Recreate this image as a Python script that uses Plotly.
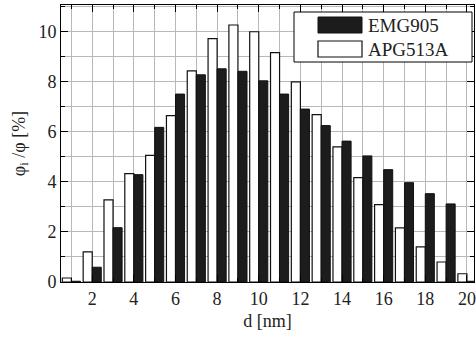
import plotly.graph_objects as go

d = list(range(1, 21))
emg905 = [0.03, 0.59, 2.17, 4.29, 6.18, 7.51, 8.28, 8.52, 8.42, 8.04,
          7.51, 6.91, 6.25, 5.63, 5.04, 4.49, 3.97, 3.53, 3.12, 0.03]
apg513a = [0.16, 1.20, 3.28, 4.33, 5.06, 6.65, 8.44, 9.73, 10.27, 10.00,
           9.17, 8.00, 6.69, 5.40, 4.17, 3.09, 2.16, 1.40, 0.80, 0.33]
x_ticks = [2, 4, 6, 8, 10, 12, 14, 16, 18, 20]
y_ticks = [0, 2, 4, 6, 8, 10]
series_names = ["EMG905", "APG513A"]

W, H = 476, 339
L, R, T, B = 61, 474, 5, 282
FONT = "Liberation Serif"

def px(xp):
    return (xp - L) / (R - L)

def py(yp):
    return (B - yp) / (B - T)

fig = go.Figure()
fig.add_trace(go.Bar(x=d, y=apg513a, name=series_names[1], marker=dict(color="white", line=dict(color="#111", width=1.2)), showlegend=False))
fig.add_trace(go.Bar(x=d, y=emg905, name=series_names[0], marker=dict(color="#1c1c1c", line=dict(color="#111", width=1)), showlegend=False))

grid = "#b8b8b8"
axis_common = dict(
    showline=True, linecolor="black", linewidth=1, mirror="ticks",
    ticks="inside", ticklen=7, tickcolor="black", tickwidth=1,
    showgrid=True, gridcolor=grid, gridwidth=1, zeroline=False,
    tickfont=dict(family=FONT, size=18, color="#222"),
)
fig.update_xaxes(**axis_common, range=[0.5, 20.34], tickvals=x_ticks,
                 minor=dict(dtick=1, tick0=0, ticks="inside", ticklen=4, tickcolor="black", showgrid=True, gridcolor=grid),
                 title=dict(text="d [nm]", font=dict(family=FONT, size=18, color="#222"), standoff=6))
fig.update_yaxes(**axis_common, range=[0, 11.07], tickvals=y_ticks,
                 minor=dict(dtick=1, tick0=0, ticks="inside", ticklen=4, tickcolor="black", showgrid=True, gridcolor=grid),
                 title=dict(text="φ<sub>i</sub> /φ [%]", font=dict(family=FONT, size=18, color="#222"), standoff=8))

# legend drawn with shapes
shapes = [
    dict(type="rect", xref="paper", yref="paper", x0=px(294), x1=px(472), y0=py(62), y1=py(12),
         fillcolor="white", line=dict(color="black", width=1)),
    dict(type="rect", xref="paper", yref="paper", x0=px(318), x1=px(362), y0=py(33), y1=py(17),
         fillcolor="#1c1c1c", line=dict(color="#111", width=1)),
    dict(type="rect", xref="paper", yref="paper", x0=px(318), x1=px(362), y0=py(57), y1=py(41),
         fillcolor="white", line=dict(color="#111", width=1.2)),
]
annotations = [
    dict(xref="paper", yref="paper", x=px(366), y=py(25), text=series_names[0], showarrow=False,
         xanchor="left", yanchor="middle", font=dict(family=FONT, size=19, color="#222")),
    dict(xref="paper", yref="paper", x=px(366), y=py(49), text=series_names[1], showarrow=False,
         xanchor="left", yanchor="middle", font=dict(family=FONT, size=19, color="#222")),
]

fig.update_layout(
    width=W, height=H,
    margin=dict(l=L, r=W - R, t=T, b=H - B, autoexpand=False),
    paper_bgcolor="white", plot_bgcolor="white",
    barmode="group", bargap=0.13, bargroupgap=0,
    shapes=shapes, annotations=annotations,
    showlegend=False,
)
fig.write_html("out.html")
